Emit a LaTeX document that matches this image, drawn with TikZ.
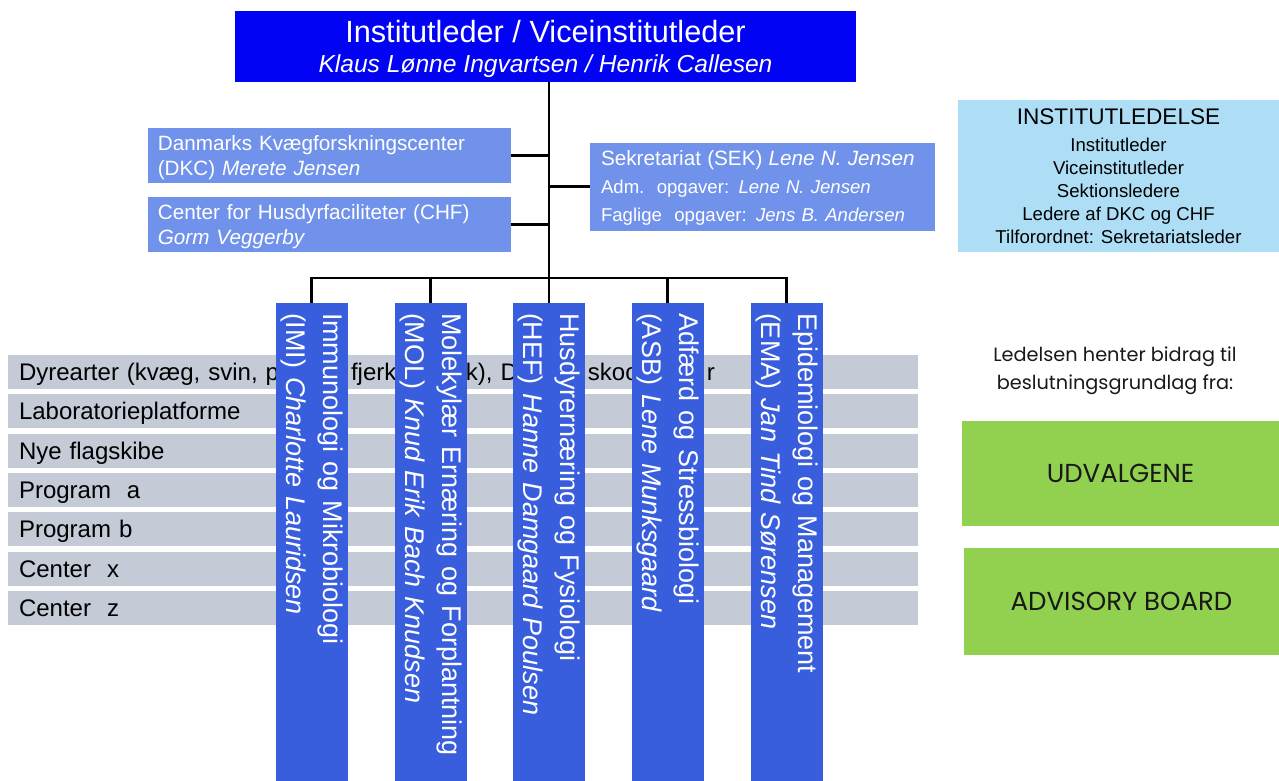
\documentclass[tikz,border=0pt]{standalone}
\usepackage{fontspec}
\setmainfont{Liberation Sans}
\newfontfamily\geo{Poppins}
\definecolor{topblue}{RGB}{2,2,245}
\definecolor{subblue}{RGB}{112,146,234}
\definecolor{colblue}{RGB}{56,94,222}
\definecolor{rowgray}{RGB}{196,202,214}
\definecolor{instcyan}{RGB}{174,222,246}
\definecolor{advgreen}{RGB}{146,208,80}
\definecolor{darktext}{RGB}{25,25,25}
\begin{document}
\begin{tikzpicture}[x=1pt,y=-1pt,
  conn/.style={draw=black, line width=2.6pt},
  topbox/.style={fill=topblue, text=white, minimum width=621pt, minimum height=70.7pt,
    inner sep=0pt, align=center, text depth=0pt, font=\fontsize{24.6}{30}\selectfont},
  subbox/.style={fill=subblue, text=white, inner xsep=10pt, inner ysep=0pt, align=left,
    text height=14.8pt, text depth=25pt, font=\fontsize{20.7}{25}\selectfont},
  colbox/.style={fill=colblue, text=white, rotate=-90, minimum width=478pt, minimum height=72pt,
    inner xsep=10pt, inner ysep=0pt, text width=458pt, align=left, font=\fontsize{27}{37}\selectfont},
  rowbox/.style={fill=rowgray, text=black, minimum width=910pt, minimum height=34pt,
    inner xsep=11pt, inner ysep=0pt, text width=888pt, align=left, text height=17.2pt,
    text depth=0pt, font=\fontsize{24}{28}\selectfont},
  instbox/.style={fill=instcyan, text=black, minimum width=321pt, minimum height=152pt,
    inner sep=0pt, align=center, text depth=0pt, font=\fontsize{18.6}{23}\selectfont},
  greenbox/.style={fill=advgreen, text=darktext, inner sep=0pt, font=\geo\fontsize{26}{30}\selectfont},
  notetext/.style={text=darktext, align=center, inner sep=0pt, text depth=0pt, font=\geo\fontsize{19.3}{27.5}\selectfont}
]
\path[use as bounding box] (0,0) rectangle (1279,781);

% rows (behind the columns)
\node[rowbox] (r1) at (463,372) {\rlap{\hspace{332pt}fjerk}\rlap{\hspace{447pt}k), D}\rlap{\hspace{569pt}skoo}\rlap{\hspace{688pt}r}Dyrearter (kvæg, svin, p};
\node[rowbox] (r2) at (463,411.3) {Laboratorieplatforme};
\node[rowbox] (r3) at (463,450.7) {Nye flagskibe};
\node[rowbox] (r4) at (463,490) {Program\ \ a};
\node[rowbox] (r5) at (463,529.3) {Program b};
\node[rowbox] (r6) at (463,568.7) {Center\ \ x};
\node[rowbox] (r7) at (463,608) {Center\ \ z};

% top
\node[topbox] (top) at (545.5,46.3) {{\fontsize{30.7}{30}\selectfont Institutleder / Viceinstitutleder}\\\textit{Klaus Lønne Ingvartsen / Henrik Callesen}};

% side boxes
\node[subbox, text width=343pt, minimum height=55pt] (dkc) at (329.35,155.2) {Danmarks Kvægforskningscenter\\(DKC) \textit{Merete Jensen}};
\node[subbox, text width=343pt, minimum height=54.7pt] (chf) at (329.35,224.35) {Center for Husdyrfaciliteter (CHF)\\\textit{Gorm Veggerby}};
\node[subbox, inner xsep=11pt, text width=323pt, minimum height=88pt, text depth=56pt, font=\fontsize{18.6}{28}\selectfont] (sek) at (762.5,186.5)
  {{\fontsize{20.7}{28}\selectfont Sekretariat (SEK) \textit{Lene N. Jensen}}\\Adm.\ \ opgaver: \textit{Lene N. Jensen}\\Faglige\ \ opgaver: \textit{Jens B. Andersen}};

% columns
\node[colbox] (imi) at (311.5,542) {Immunologi og Mikrobiologi\\(IMI) \textit{Charlotte Lauridsen}};
\node[colbox] (mol) at (430.5,542) {Molekylær Ernæring og Forplantning\\(MOL) \textit{Knud Erik Bach Knudsen}};
\node[colbox] (hef) at (549,542) {Husdyrernæring og Fysiologi\\(HEF) \textit{Hanne Damgaard Poulsen}};
\node[colbox] (asb) at (667.5,542) {Adfærd og Stressbiologi\\(ASB) \textit{Lene Munksgaard}};
\node[colbox] (ema) at (786.5,542) {Epidemiologi og Management\\(EMA) \textit{Jan Tind Sørensen}};

% connectors
\coordinate (busy) at (0,278);
\draw[conn] (top.south -| hef.west) -- (hef.west);
\draw[conn] (imi.west) -- (imi.west |- busy) -- (ema.west |- busy) -- (ema.west);
\draw[conn] (mol.west) -- (mol.west |- busy);
\draw[conn] (asb.west) -- (asb.west |- busy);
\draw[conn] (dkc.east) -- (dkc.east -| hef.west);
\draw[conn] (chf.east) -- (chf.east -| hef.west);
\draw[conn] (sek.west) -- (sek.west -| hef.west);

% right side
\node[instbox] (inst) at (1118.5,176) {{\fontsize{22.6}{23}\selectfont INSTITUTLEDELSE}\\[3.5pt]Institutleder\\Viceinstitutleder\\Sektionsledere\\Ledere af DKC og CHF\\Tilforordnet: Sekretariatsleder};
\node[notetext] (note) at (1115,368) {Ledelsen henter bidrag til\\beslutningsgrundlag fra:};
\node[greenbox, minimum width=317pt, minimum height=105pt] (udv) at (1120.5,473.5) {UDVALGENE};
\node[greenbox, minimum width=315pt, minimum height=107pt] (adv) at (1121.5,601.5) {ADVISORY BOARD};
\end{tikzpicture}
\end{document}
